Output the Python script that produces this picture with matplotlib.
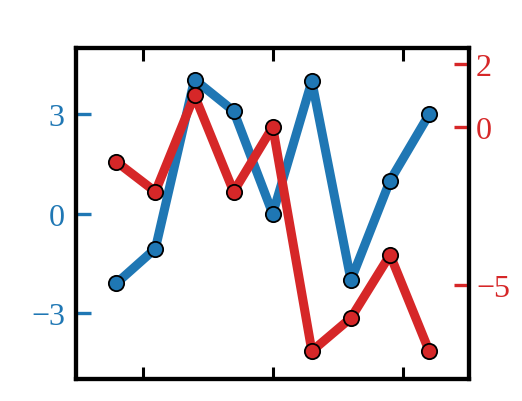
import numpy as np
import matplotlib
matplotlib.use("Agg")
import matplotlib.pyplot as plt

plt.rcParams['font.family'] = ['Liberation Serif', 'DejaVu Serif']

# data
x = np.arange(9)
blue_vals = [-2.1, -1.05, 4.05, 3.1, 0.0, 4.0, -2.0, 1.0, 3.0]
red_vals = [-1.1, -2.05, 1.0, -2.05, 0.0, -7.1, -6.05, -4.05, -7.1]
x_ticks = [0.68, 4.0, 7.32]
blue_ticks = [-3, 0, 3]
red_ticks = [-5, 0, 2]

blue = '#1f77b4'
red = '#d62728'

fig = plt.figure(figsize=(5.22, 4.02), dpi=100)
ax = fig.add_axes([0.1456, 0.0535, 0.753, 0.8245])
ax2 = ax.twinx()

ax.plot(x, blue_vals, color=blue, lw=6.5, marker='o', ms=11,
        mfc=blue, mec='black', mew=1.3)
ax2.plot(x, red_vals, color=red, lw=6.5, marker='o', ms=11,
         mfc=red, mec='black', mew=1.3)

ax.set_xlim(-1.03, 9.02)
ax.set_ylim(-5, 5)
ax2.set_ylim(-8, 2.5)

ax.set_xticks(x_ticks)
ax.set_xticklabels([])
ax.tick_params(axis='x', direction='in', length=9, width=2.2, color='black',
               top=True, bottom=True)

ax.set_yticks(blue_ticks)
ax.set_yticklabels(['\u22123', '0', '3'])
ax.tick_params(axis='y', direction='in', length=11, width=2.4, colors=blue,
               labelsize=23, pad=8)

ax2.set_yticks(red_ticks)
ax2.set_yticklabels(['\u22125', '0', '2'])
ax2.tick_params(axis='y', direction='in', length=11, width=2.4, colors=red,
                labelsize=23, pad=5)

for a in (ax, ax2):
    for s in a.spines.values():
        s.set_linewidth(3)
        s.set_color('black')

fig.savefig('out.png', dpi=100)
